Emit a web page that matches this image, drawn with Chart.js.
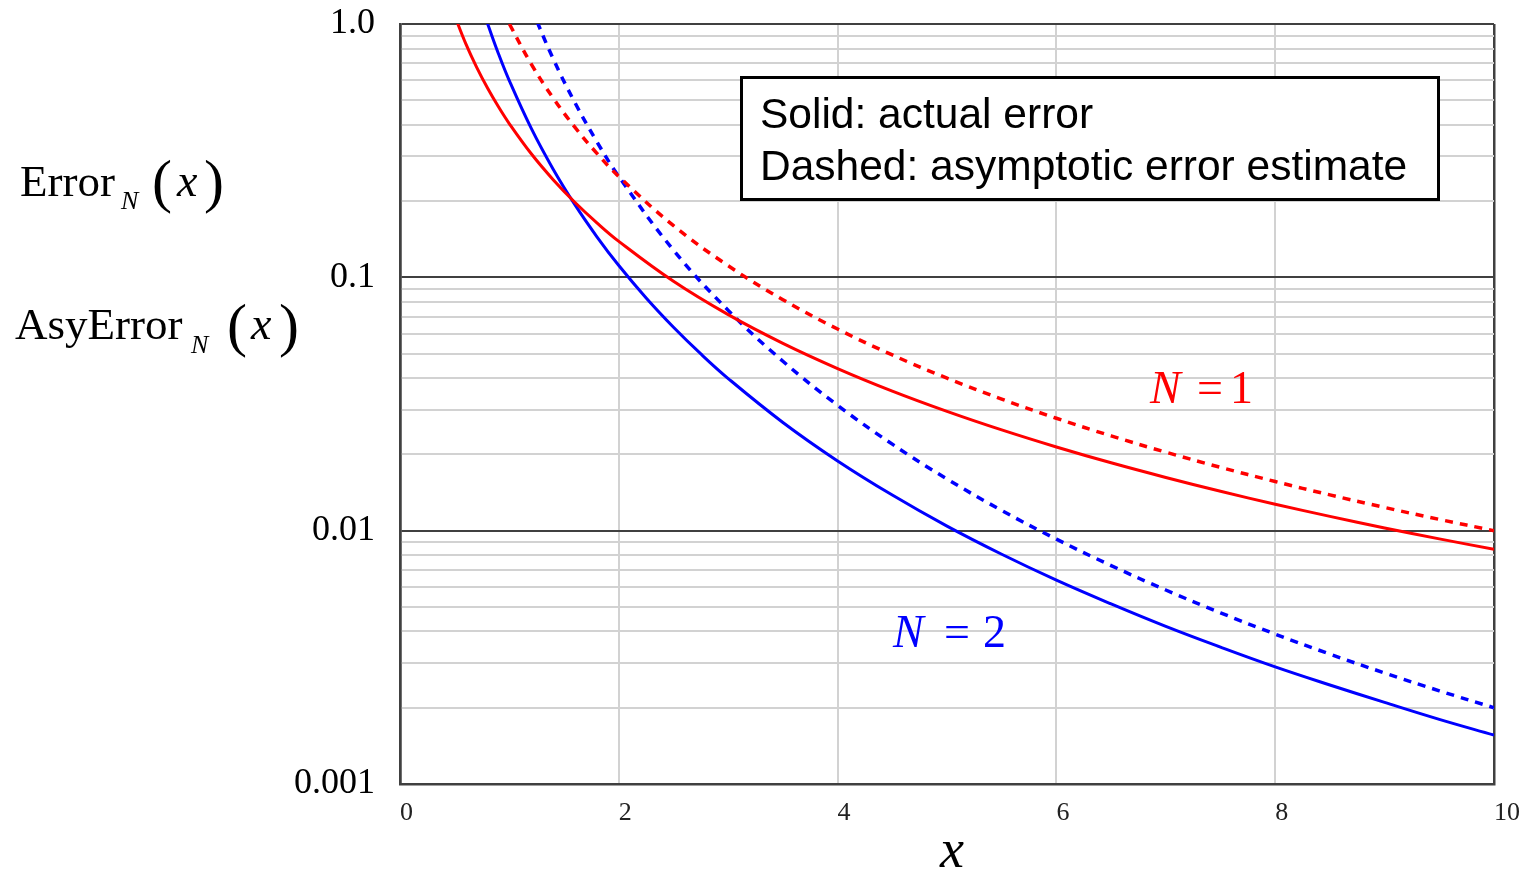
<!DOCTYPE html>
<html>
<head>
<meta charset="utf-8">
<script src="https://cdn.jsdelivr.net/npm/chart.js@4"></script>
<style>
  html, body { margin: 0; padding: 0; background: #ffffff; }
  #wrap { width: 1521px; height: 872px; }
</style>
</head>
<body>
<div id="wrap"><canvas id="c" width="1521" height="872"></canvas></div>
<script>
// ---- Data ----
// Actual error, N = 1 (solid red)
const xErr1 = [0.5, 0.6, 0.7, 0.8, 0.9, 1.0, 1.2, 1.4, 1.6, 1.8, 2.0, 2.5, 3.0, 3.5, 4.0, 4.5, 5.0, 5.5, 6.0, 6.5, 7.0, 7.5, 8.0, 8.5, 9.0, 9.5, 10.0];
const err1  = [1.077, 0.8387, 0.6759, 0.5588, 0.4712, 0.4037, 0.3074, 0.2430, 0.1975, 0.1641, 0.1387, 0.09647, 0.07125, 0.05489, 0.04365, 0.03556, 0.02958, 0.02499, 0.02140, 0.01853, 0.01622, 0.01431, 0.01272, 0.01139, 0.01025, 0.00928, 0.00844];
// Actual error, N = 2 (solid blue)
const xErr2 = [0.8, 0.9, 1.0, 1.2, 1.4, 1.6, 1.8, 2.0, 2.25, 2.5, 2.75, 3.0, 3.5, 4.0, 4.5, 5.0, 5.5, 6.0, 6.5, 7.0, 7.5, 8.0, 8.5, 9.0, 9.5, 10.0];
const err2  = [1.004, 0.7634, 0.5964, 0.3870, 0.2672, 0.1931, 0.1446, 0.1113, 0.08288, 0.06353, 0.04983, 0.03986, 0.02674, 0.01885, 0.01382, 0.01042, 0.00807, 0.00638, 0.00514, 0.00419, 0.00347, 0.00290, 0.00246, 0.00210, 0.00180, 0.00156];
// Asymptotic error estimate, N = 1 (dashed red)
const xAsy1 = [1.0, 1.2, 1.4, 1.6, 1.8, 2.0, 2.5, 3.0, 3.5, 4.0, 4.5, 5.0, 5.5, 6.0, 6.5, 7.0, 7.5, 8.0, 8.5, 9.0, 9.5, 10.0];
const asy1  = [1.0, 0.6944, 0.5102, 0.3906, 0.3086, 0.25, 0.16, 0.1111, 0.08163, 0.0625, 0.04938, 0.04, 0.03306, 0.02778, 0.02367, 0.02041, 0.01778, 0.01563, 0.01384, 0.01235, 0.01108, 0.01];
// Asymptotic error estimate, N = 2 (dashed blue)
const xAsy2 = [1.2, 1.4, 1.6, 1.8, 2.0, 2.5, 3.0, 3.5, 4.0, 4.5, 5.0, 5.5, 6.0, 6.5, 7.0, 7.5, 8.0, 8.5, 9.0, 9.5, 10.0];
const asy2  = [1.157, 0.7289, 0.4883, 0.3429, 0.25, 0.128, 0.07407, 0.04665, 0.03125, 0.02195, 0.016, 0.01202, 0.009259, 0.007283, 0.005831, 0.004741, 0.003906, 0.003256, 0.002743, 0.002333, 0.002];

// Ticks
const xTickValues = [0, 2, 4, 6, 8, 10];
const yGridValues = [0.001, 0.002, 0.003, 0.004, 0.005, 0.006, 0.007, 0.008, 0.009,
                     0.01, 0.02, 0.03, 0.04, 0.05, 0.06, 0.07, 0.08, 0.09,
                     0.1, 0.2, 0.3, 0.4, 0.5, 0.6, 0.7, 0.8, 0.9, 1.0];
const yDecadeValues = [0.001, 0.01, 0.1, 1.0];
const yDecadeLabels = ["0.001", "0.01", "0.1", "1.0"];

// ---- Helpers ----
const pts = (xs, ys) => xs.map((x, i) => ({ x: x, y: ys[i] }));
const decadeIndex = v => yDecadeValues.findIndex(d => Math.abs(v - d) / d < 1e-6);
const zeroPad = s => { s.paddingTop = 0; s.paddingBottom = 0; s.paddingLeft = 0; s.paddingRight = 0; };

const DARK = '#404040';
const LIGHT = '#d2d2d2';
const SERIF = '"Liberation Serif", "Times New Roman", serif';
const SANS = '"Liberation Sans", Arial, sans-serif';

const annotations = {
  id: 'annotations',
  afterDraw(chart) {
    const ctx = chart.ctx;
    ctx.save();
    ctx.textBaseline = 'alphabetic';
    ctx.textAlign = 'left';

    // Y-axis titles
    ctx.fillStyle = '#000';
    ctx.font = '45px ' + SERIF;
    ctx.fillText('Error', 20, 196);
    ctx.font = 'italic 26px ' + SERIF;
    ctx.fillText('N', 121, 209);
    ctx.font = '60px ' + SERIF;
    ctx.fillText('(', 152, 201);
    ctx.font = 'italic 46px ' + SERIF;
    ctx.fillText('x', 177, 196);
    ctx.font = '60px ' + SERIF;
    ctx.fillText(')', 204, 201);

    ctx.font = '45px ' + SERIF;
    ctx.fillText('AsyError', 15, 339);
    ctx.font = 'italic 26px ' + SERIF;
    ctx.fillText('N', 191, 353);
    ctx.font = '60px ' + SERIF;
    ctx.fillText('(', 227, 345);
    ctx.font = 'italic 46px ' + SERIF;
    ctx.fillText('x', 251, 339);
    ctx.font = '60px ' + SERIF;
    ctx.fillText(')', 279, 345);

    // X-axis title
    ctx.font = 'italic 54px ' + SERIF;
    ctx.textAlign = 'center';
    ctx.fillText('x', 952, 867);
    ctx.textAlign = 'left';

    // N = 1 label
    ctx.fillStyle = '#ff0000';
    ctx.font = 'italic 46px ' + SERIF;
    ctx.fillText('N', 1150, 403);
    ctx.font = '46px ' + SERIF;
    ctx.fillText('=', 1197, 403);
    ctx.fillText('1', 1230, 403);

    // N = 2 label
    ctx.fillStyle = '#0000ff';
    ctx.font = 'italic 46px ' + SERIF;
    ctx.fillText('N', 893, 647);
    ctx.font = '46px ' + SERIF;
    ctx.fillText('=', 944, 647);
    ctx.fillText('2', 983, 647);

    // Legend box
    ctx.fillStyle = '#ffffff';
    ctx.fillRect(741, 77, 698, 123);
    ctx.strokeStyle = '#000';
    ctx.lineWidth = 3;
    ctx.strokeRect(741.5, 77.5, 697, 122);
    ctx.fillStyle = '#000';
    ctx.font = '42.5px ' + SANS;
    ctx.fillText('Solid: actual error', 760, 128);
    ctx.fillText('Dashed: asymptotic error estimate', 760, 180);
    ctx.restore();
  }
};

const line = (data, color, dashed) => ({
  data: data,
  borderColor: color,
  backgroundColor: color,
  borderWidth: dashed ? 3.5 : 3,
  borderDash: dashed ? [8, 7] : [],
  pointRadius: 0,
  fill: false,
  tension: 0.4
});

new Chart(document.getElementById('c'), {
  type: 'line',
  data: {
    datasets: [
      line(pts(xErr1, err1), '#ff0000', false),
      line(pts(xErr2, err2), '#0000ff', false),
      line(pts(xAsy1, asy1), '#ff0000', true),
      line(pts(xAsy2, asy2), '#0000ff', true)
    ]
  },
  options: {
    responsive: false,
    devicePixelRatio: 1,
    animation: false,
    events: [],
    layout: { padding: { top: 24, right: 27, left: 0, bottom: 0 } },
    plugins: { legend: { display: false }, tooltip: { enabled: false } },
    scales: {
      x: {
        type: 'linear',
        min: 0,
        max: 10,
        afterBuildTicks: s => { s.ticks = xTickValues.map(v => ({ value: v })); },
        afterFit: s => { s.height = 88; zeroPad(s); },
        grid: {
          drawTicks: false,
          color: c => (c.tick && (c.tick.value === 0 || c.tick.value === 10)) ? DARK : LIGHT,
          lineWidth: c => (c.tick && (c.tick.value === 0 || c.tick.value === 10)) ? 2.5 : 2
        },
        border: { display: true, color: DARK, width: 2.5 },
        ticks: {
          autoSkip: false,
          maxRotation: 0,
          align: 'start',
          padding: 14,
          color: '#222',
          font: { family: SERIF, size: 26 },
          callback: v => String(v)
        }
      },
      y: {
        type: 'logarithmic',
        min: 0.001,
        max: 1,
        afterBuildTicks: s => { s.ticks = yGridValues.map(v => ({ value: v })); },
        afterFit: s => { s.width = 400; zeroPad(s); },
        grid: {
          drawTicks: false,
          color: c => (c.tick && decadeIndex(c.tick.value) >= 0) ? DARK : LIGHT,
          lineWidth: 2
        },
        border: { display: true, color: DARK, width: 2.5 },
        ticks: {
          autoSkip: false,
          padding: 25,
          color: '#000',
          font: { family: SERIF, size: 36 },
          callback: v => { const i = decadeIndex(v); return i >= 0 ? yDecadeLabels[i] : ''; }
        }
      }
    }
  },
  plugins: [annotations]
});
</script>
</body>
</html>
